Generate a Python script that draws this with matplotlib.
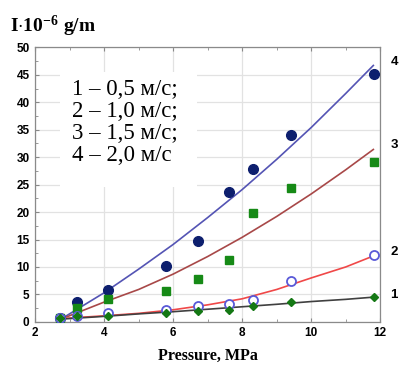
import matplotlib
matplotlib.use("Agg")
import matplotlib.pyplot as plt
from matplotlib.ticker import MultipleLocator
from matplotlib.patches import Rectangle

plt.rcParams["font.family"] = ["Liberation Sans", "DejaVu Sans"]
plt.rcParams["font.weight"] = "bold"
plt.rcParams["mathtext.fontset"] = "custom"
plt.rcParams["mathtext.rm"] = "Liberation Serif:bold"
plt.rcParams["mathtext.bf"] = "Liberation Serif:bold"
plt.rcParams["mathtext.it"] = "Liberation Serif:bold"

# ---- data ----
pressure = [2.72, 3.2, 4.1, 5.8, 6.73, 7.63, 8.31, 9.41, 11.83]
s4 = [0.7, 3.6, 5.8, 10.2, 14.8, 23.6, 27.9, 34.1, 45.1]
s3 = [0.7, 2.5, 4.2, 5.7, 7.8, 11.3, 19.8, 24.3, 29.1]
s2 = [0.7, 1.0, 1.7, 2.2, 2.9, 3.3, 3.9, 7.4, 12.2]
s1 = [0.7, 1.0, 1.0, 1.7, 2.0, 2.2, 2.8, 3.7, 4.5]

curve_x = [2.75, 4, 5, 6, 7, 8, 9, 10, 11, 11.8]
fit4 = [0.5, 5.3, 9.6, 14.1, 19.0, 24.1, 29.6, 35.4, 41.6, 46.7]
fit3 = [0.5, 3.6, 5.9, 8.7, 11.9, 15.4, 19.2, 23.3, 27.7, 31.4]
fit2 = [0.6, 1.1, 1.55, 2.2, 3.1, 4.2, 5.9, 8.0, 10.0, 12.0]
fit1 = [0.5, 1.0, 1.45, 1.85, 2.3, 2.75, 3.2, 3.7, 4.1, 4.5]

legend_lines = ["1 – 0,5 м/с;", "2 – 1,0 м/с;", "3 – 1,5 м/с;", "4 – 2,0 м/с"]
curve_labels = ["4", "3", "2", "1"]
curve_label_y = [47.4, 32.3, 12.8, 4.9]

fig = plt.figure(figsize=(3.99, 3.67), dpi=100)
ax = fig.add_axes([0.088, 0.123, 0.865, 0.748])

ax.plot(curve_x, fit4, color="#5454b4", lw=1.2, zorder=3)
ax.plot(curve_x, fit3, color="#a84848", lw=1.2, zorder=3)
ax.plot(curve_x, fit2, color="#f04848", lw=1.2, zorder=3)
ax.plot(curve_x, fit1, color="#404040", lw=1.2, zorder=3)

ax.plot(pressure, s4, "o", color="#0d1f6e", ms=7, zorder=4)
ax.plot(pressure, s3, "s", color="#168a16", ms=6.2, zorder=4)
ax.plot(pressure, s2, "o", mfc="white", mec="#5a5ad8", mew=1.3, ms=6.5, zorder=4)
ax.plot(pressure, s1, "D", color="#147814", ms=4, zorder=4)

ax.set_xlim(2, 12)
ax.set_ylim(0, 50)
ax.xaxis.set_major_locator(MultipleLocator(2))
ax.xaxis.set_minor_locator(MultipleLocator(1))
ax.yaxis.set_major_locator(MultipleLocator(5))
ax.yaxis.set_minor_locator(MultipleLocator(2.5))
ax.grid(True, which="major", color="#e2e2e2", lw=0.9, zorder=0)
ax.tick_params(which="both", direction="in", top=True, right=False, color="#888888",
               labelsize=8.5, pad=4)
ax.tick_params(which="major", length=3)
ax.tick_params(which="minor", length=2)
for sp in ax.spines.values():
    sp.set_color("#8a8a8a")
    sp.set_linewidth(0.9)

ax.set_xlabel("Pressure, MPa", family="Liberation Serif", fontweight="bold",
              fontsize=11.5, labelpad=6)

fig.text(0.025, 0.913, r"$\mathbf{I{\cdot}10^{-6}\ g/m}$",
         fontsize=14, ha="left", va="baseline")

# legend text box
ax.add_patch(Rectangle((0.0725, 0.49), 0.397, 0.422, transform=ax.transAxes,
                       fc="white", ec="none", zorder=2))
ax.text(3.07, 36.3, "\n".join(legend_lines), family="Liberation Serif",
        fontweight="normal", fontsize=16.5,
        ha="left", va="center", linespacing=1.06, zorder=5)

for lab, yv in zip(curve_labels, curve_label_y):
    ax.annotate(lab, xy=(1.0, yv), xycoords=("axes fraction", "data"),
                xytext=(10, 0), textcoords="offset points", ha="center", va="center",
                fontweight="bold", fontsize=9.5, annotation_clip=False)

fig.savefig("out.png", dpi=100)
